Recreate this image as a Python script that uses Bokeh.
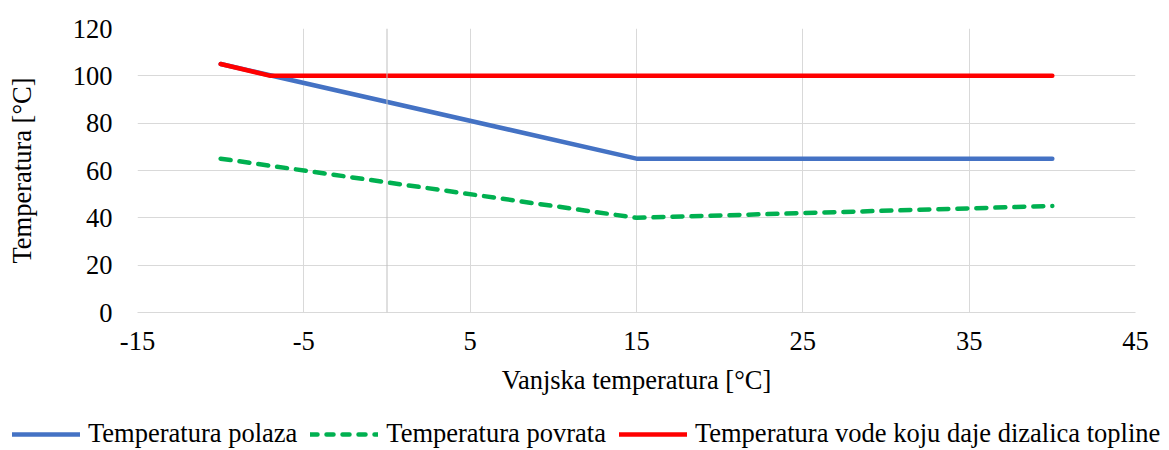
from bokeh.plotting import figure
from bokeh.models import Legend, LegendItem, Span, FixedTicker, Range1d
from bokeh.layouts import column
from bokeh.embed import file_html
from bokeh.resources import INLINE

# Data
x_polaza = [-10, 15, 40]
y_polaza = [105, 65, 65]
x_povrata = [-10, 15, 40]
y_povrata = [65, 40, 45]
x_dizalica = [-10, -7, 40]
y_dizalica = [105, 100, 100]
x_ticks = [-15, -5, 5, 15, 25, 35, 45]
y_ticks = [0, 20, 40, 60, 80, 100, 120]
series_names = ["Temperatura polaza", "Temperatura povrata",
                "Temperatura vode koju daje dizalica topline"]

FONT = "Liberation Serif"
FS = "26.5px"
C_BLUE, C_GREEN, C_RED = "#4472c4", "#00b050", "#ff0000"

p = figure(width=1169, height=400, output_backend="svg", toolbar_location=None,
           x_range=Range1d(-15, 45), y_range=Range1d(0, 120),
           min_border_left=137, min_border_top=28, min_border_right=34, min_border_bottom=88)
p.outline_line_color = None
p.frame_align = False

p.xaxis.ticker = FixedTicker(ticks=x_ticks)
p.yaxis.ticker = FixedTicker(ticks=y_ticks)
p.xaxis.major_label_overrides = {t: str(t) for t in x_ticks}
for ax in (p.xaxis[0], p.yaxis[0]):
    ax.major_tick_line_color = None
    ax.minor_tick_line_color = None
    ax.major_label_text_font = FONT
    ax.major_label_text_font_size = FS
    ax.major_label_text_color = "#000000"
    ax.axis_label_text_font = FONT
    ax.axis_label_text_font_size = FS
    ax.axis_label_text_font_style = "normal"
    ax.axis_label_text_color = "#000000"
p.xaxis.axis_line_color = "#d9d9d9"
p.yaxis.axis_line_color = None
p.xaxis.major_label_standoff = 13
p.yaxis.major_label_standoff = 19
p.xaxis.axis_label = "Vanjska temperatura [°C]"
p.yaxis.axis_label = "Temperatura [°C]"
p.xaxis.axis_label_standoff = 12
p.yaxis.axis_label_standoff = 33

p.xgrid.ticker = FixedTicker(ticks=x_ticks)
p.ygrid.ticker = FixedTicker(ticks=y_ticks)
p.xgrid.grid_line_color = "#d9d9d9"
p.ygrid.grid_line_color = "#d9d9d9"

p.add_layout(Span(location=0, dimension="height", line_color="#bfbfbf", line_width=1))

p.line(x_polaza, y_polaza, line_color=C_BLUE, line_width=4.5, line_cap="round", line_join="round")
p.line(x_povrata, y_povrata, line_color=C_GREEN, line_width=4.5, line_dash="10 9", line_cap="round")
p.line(x_dizalica, y_dizalica, line_color=C_RED, line_width=4.5, line_cap="round", line_join="round")

# Legend strip below the chart (its data lies outside its visible range)
lg = figure(width=1169, height=50, output_backend="svg", toolbar_location=None,
            x_range=Range1d(0, 1), y_range=Range1d(0, 1),
            min_border_left=0, min_border_right=0, min_border_top=0, min_border_bottom=0)
lg.frame_align = False
lg.axis.visible = False
lg.grid.visible = False
lg.outline_line_color = None
l1 = lg.line(x_polaza, y_polaza, line_color=C_BLUE, line_width=4.5, line_cap="round")
l2 = lg.line(x_povrata, y_povrata, line_color=C_GREEN, line_width=4.5, line_dash="7 9", line_cap="round")
l3 = lg.line(x_dizalica, y_dizalica, line_color=C_RED, line_width=4.5, line_cap="round")

legend = Legend(items=[
    LegendItem(label=series_names[0], renderers=[l1]),
    LegendItem(label=series_names[1], renderers=[l2]),
    LegendItem(label=series_names[2], renderers=[l3]),
], orientation="horizontal", location=(12, 1))
legend.label_text_font = FONT
legend.label_text_font_size = FS
legend.label_text_color = "#000000"
legend.border_line_color = None
legend.background_fill_alpha = 0
legend.glyph_width = 68
legend.spacing = 13
legend.label_standoff = 8
legend.padding = 0
legend.margin = 0
lg.add_layout(legend)

open("out.html", "w").write(file_html(column(p, lg, spacing=0), INLINE))
